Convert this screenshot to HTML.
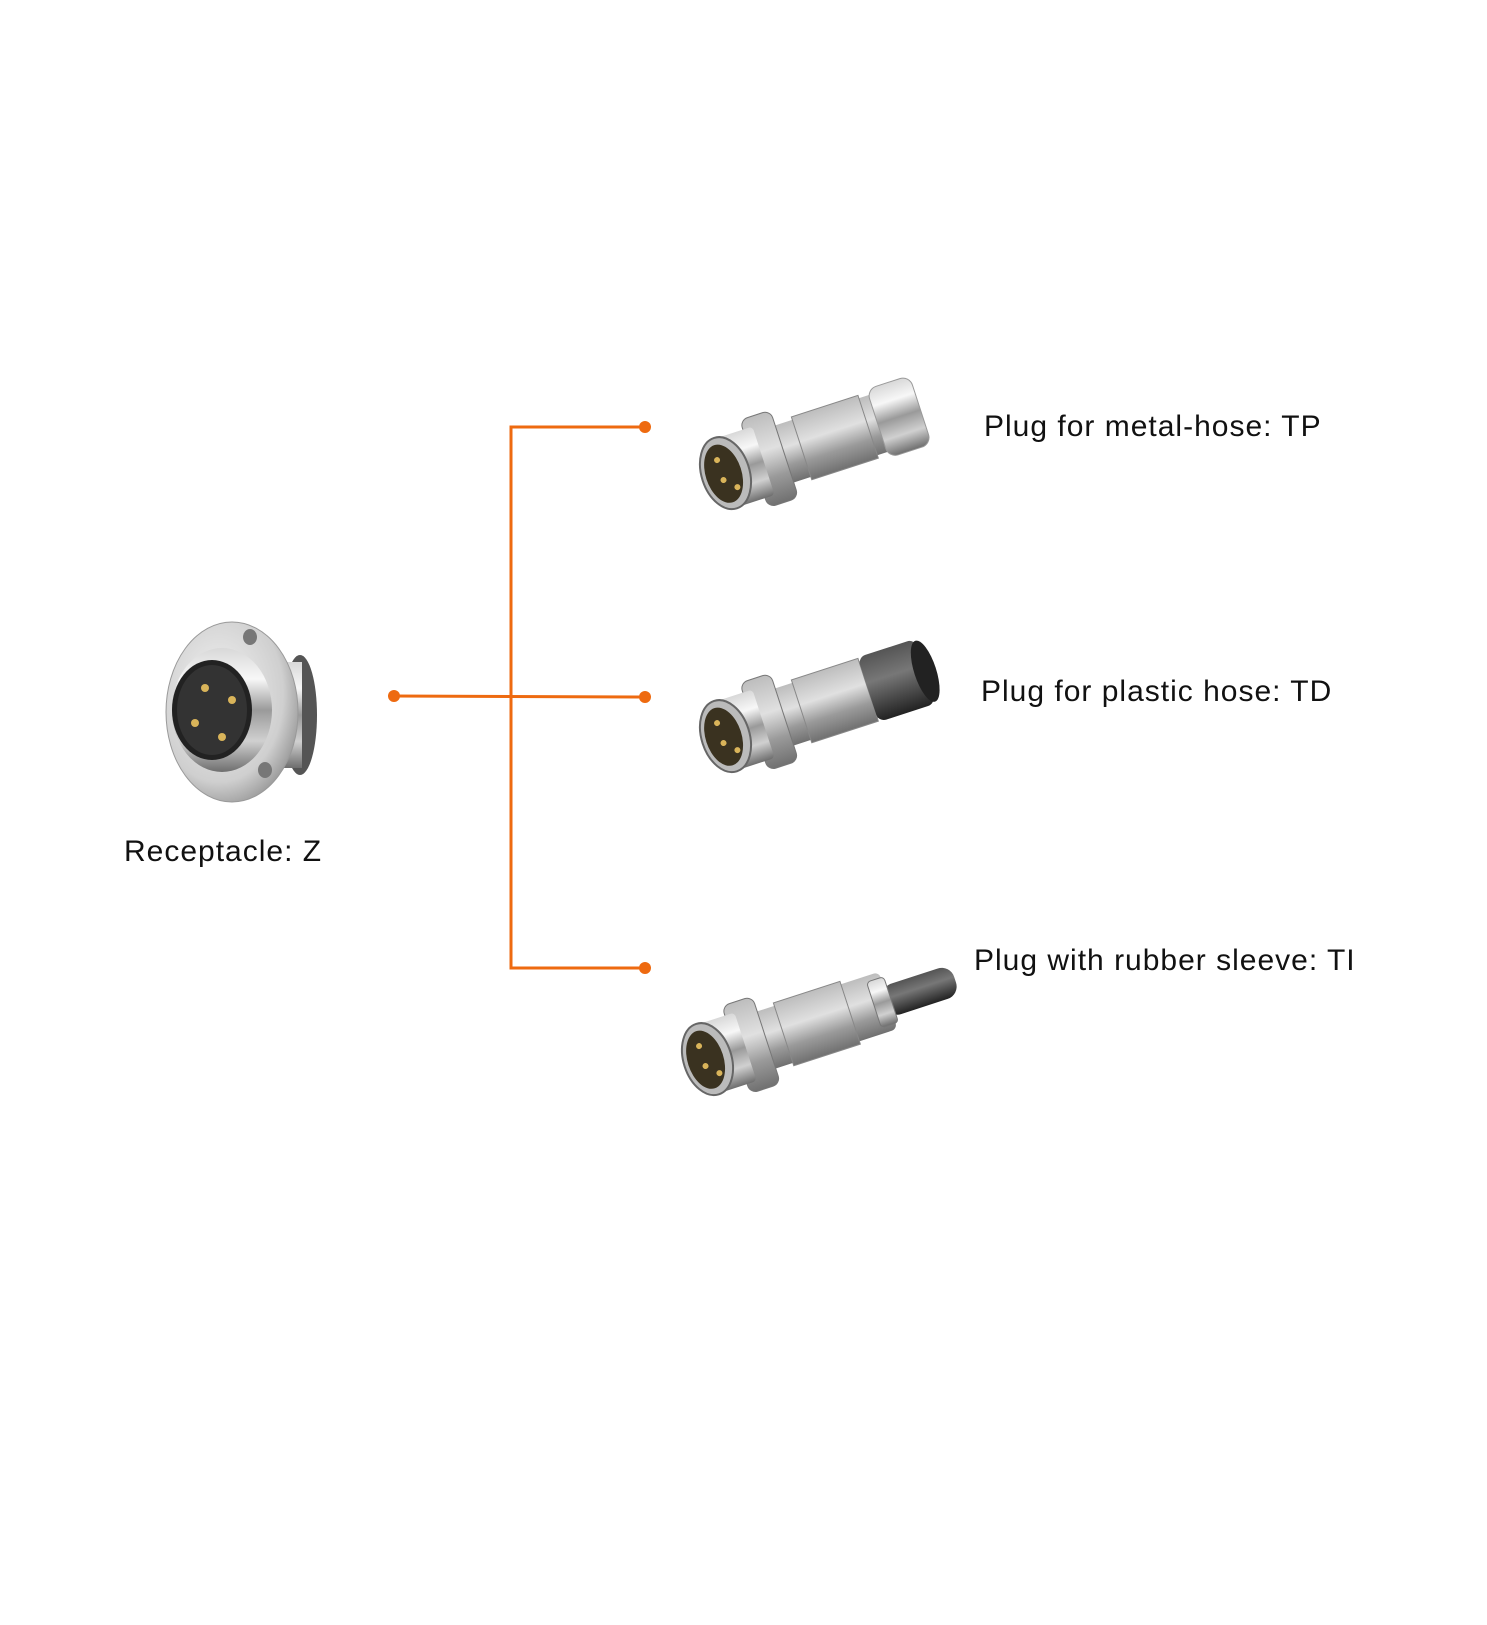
<!DOCTYPE html>
<html><head><meta charset="utf-8"><style>
html,body{margin:0;padding:0;background:#fff;}
body{width:1487px;height:1625px;position:relative;overflow:hidden;font-family:"Liberation Sans",sans-serif;}
.t{position:absolute;font-size:30px;letter-spacing:1px;color:#111;white-space:nowrap;line-height:1;}
svg{position:absolute;left:0;top:0;}
</style></head><body>
<svg width="1487" height="1625" viewBox="0 0 1487 1625">
<defs>
<linearGradient id="chr" x1="0" y1="0" x2="0" y2="1">
<stop offset="0" stop-color="#d8d8d8"/><stop offset="0.25" stop-color="#f7f7f7"/><stop offset="0.5" stop-color="#9a9a9a"/><stop offset="0.75" stop-color="#d0d0d0"/><stop offset="1" stop-color="#6e6e6e"/>
</linearGradient>
<linearGradient id="knurl" x1="0" y1="0" x2="0" y2="1">
<stop offset="0" stop-color="#bdbdbd"/><stop offset="0.4" stop-color="#e0e0e0"/><stop offset="0.7" stop-color="#9a9a9a"/><stop offset="1" stop-color="#707070"/>
</linearGradient>
<linearGradient id="blk" x1="0" y1="0" x2="0" y2="1">
<stop offset="0" stop-color="#555"/><stop offset="0.4" stop-color="#777"/><stop offset="1" stop-color="#222"/>
</linearGradient>
<radialGradient id="flange" cx="0.4" cy="0.4" r="0.7">
<stop offset="0" stop-color="#f4f4f4"/><stop offset="0.7" stop-color="#cfcfcf"/><stop offset="1" stop-color="#8a8a8a"/>
</radialGradient>
<g id="plug">
<rect x="40" y="-30" width="140" height="60" rx="6" fill="url(#knurl)"/>
<rect x="70" y="-33" width="70" height="66" fill="url(#knurl)" stroke="#888" stroke-width="1"/>
<rect x="20" y="-46" width="32" height="92" rx="8" fill="url(#knurl)" stroke="#777" stroke-width="1"/>
<rect x="-10" y="-36" width="40" height="72" rx="4" fill="url(#chr)"/>
<ellipse cx="-10" cy="0" rx="24" ry="37" fill="#bbb" stroke="#666" stroke-width="2"/>
<ellipse cx="-12" cy="0" rx="18" ry="30" fill="#3a3220"/>
<circle cx="-14" cy="-15" r="3" fill="#d9b45a"/><circle cx="-14" cy="6" r="3" fill="#d9b45a"/><circle cx="-3" cy="17" r="3" fill="#d9b45a"/>
</g>
</defs>
<g stroke="#ee6a10" stroke-width="3" fill="none">
<polyline points="645,427 511,427 511,968 645,968"/>
<line x1="394" y1="696" x2="645" y2="697"/>
</g>
<g fill="#ee6a10">
<circle cx="645" cy="427" r="6"/><circle cx="645" cy="697" r="6"/><circle cx="645" cy="968" r="6"/><circle cx="394" cy="696" r="6"/>
</g>
<ellipse cx="300" cy="715" rx="17" ry="60" fill="#555"/>
<rect x="280" y="662" width="22" height="106" fill="url(#chr)"/>
<ellipse cx="232" cy="712" rx="66" ry="90" fill="url(#flange)" stroke="#999" stroke-width="1"/>
<ellipse cx="250" cy="637" rx="7" ry="8" fill="#777"/><ellipse cx="265" cy="770" rx="7" ry="8" fill="#777"/>
<ellipse cx="222" cy="710" rx="50" ry="62" fill="url(#chr)"/>
<ellipse cx="212" cy="710" rx="40" ry="50" fill="#222"/>
<ellipse cx="212" cy="710" rx="35" ry="45" fill="#333"/>
<circle cx="205" cy="688" r="4" fill="#d9b45a"/><circle cx="232" cy="700" r="4" fill="#d9b45a"/>
<circle cx="195" cy="723" r="4" fill="#d9b45a"/><circle cx="222" cy="737" r="4" fill="#d9b45a"/>
<g transform="translate(735,470) rotate(-18)">
<use href="#plug"/>
<rect x="150" y="-36" width="45" height="72" rx="10" fill="url(#chr)" stroke="#999"/>
</g>
<g transform="translate(735,733) rotate(-18)">
<use href="#plug"/>
<rect x="140" y="-34" width="60" height="68" rx="8" fill="url(#blk)"/>
<ellipse cx="200" cy="0" rx="11" ry="32" fill="#222"/>
</g>
<g transform="translate(717,1056) rotate(-18)">
<use href="#plug"/>
<rect x="175" y="-15" width="75" height="32" rx="13" fill="url(#blk)"/>
<rect x="165" y="-24" width="18" height="48" rx="4" fill="url(#chr)" stroke="#777"/>
</g>
</svg>
<div class="t" style="left:984px;top:412px;">Plug for metal-hose: TP</div>
<div class="t" style="left:981px;top:677px;">Plug for plastic hose: TD</div>
<div class="t" style="left:974px;top:946px;">Plug with rubber sleeve: TI</div>
<div class="t" style="left:124px;top:837px;">Receptacle: Z</div>
</body></html>
